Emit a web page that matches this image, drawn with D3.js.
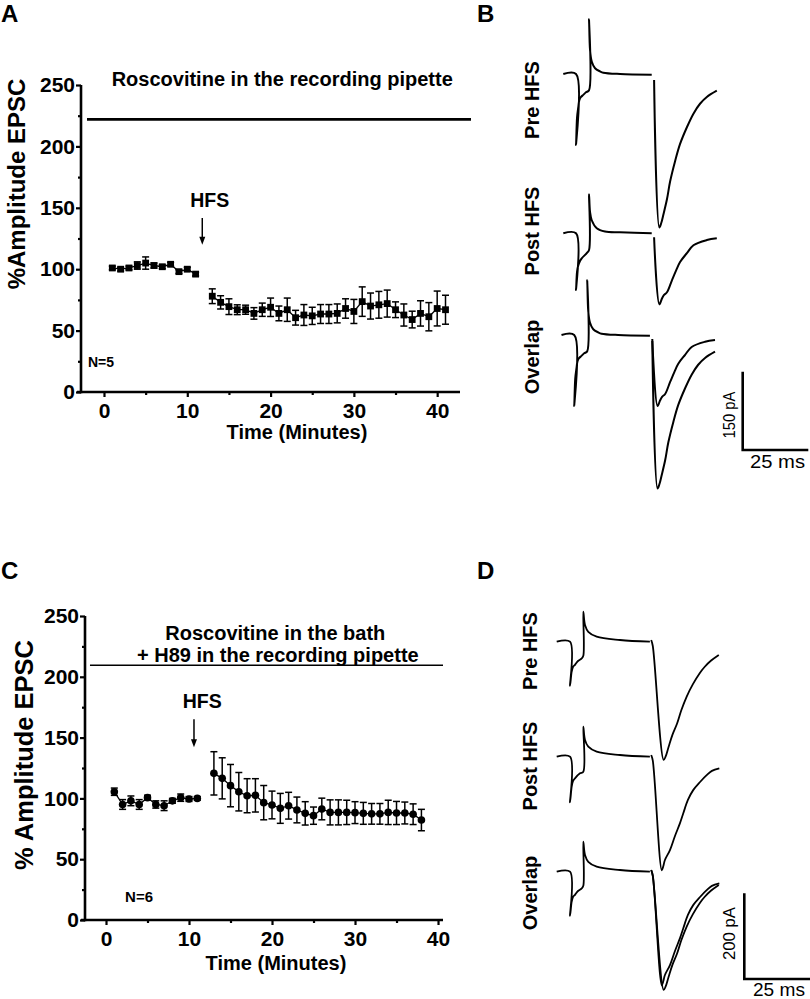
<!DOCTYPE html>
<html><head><meta charset="utf-8">
<script src="https://cdn.jsdelivr.net/npm/d3@7"></script>
<style>
body{margin:0;background:#fff}
svg{display:block}
text{font-family:'Liberation Sans',Arial,Helvetica,sans-serif}
</style>
</head><body>
<svg id="fig" width="810" height="999"></svg>
<script>
// ---------------- DATA ----------------
// Panel A (squares)
const timeA_pre = [1,2,3,4,5,6,7,8,9,10,11];
const ampA_pre  = [101,100,101,103,105,103,102,104,98,100,96];
const semA_pre  = [1.5,1.5,1.5,3,5,2,1.5,1.5,1.5,1.5,1.5];
const timeA_post = [13,14,15,16,17,18,19,20,21,22,23,24,25,26,27,28,29,30,31,32,33,34,35,36,37,38,39,40,41];
const ampA_post  = [78,73,69.5,67,67,64,67,69,64,67,60.5,62.7,62,63.5,63.5,64,68,65.6,73.6,70,71,72,67,62.7,59,64,61.3,68,67];
const semA_post  = [6,5.4,6.4,4,3.7,4.7,5.4,7.5,6,9.5,6,8.5,7,7.7,7.7,7.7,7.9,9.8,12,10.6,10.9,11,6.4,9,6.8,10.3,11.5,14.2,11.8];

// Panel C (circles)
const timeC_pre = [1,2,3,4,5,6,7,8,9,10,11];
const ampC_pre  = [105.5,95,98,95,100.6,95,94,98,100.6,99.5,100];
const semC_pre  = [3,4,4,4,2,3,4,2,3,2,1.5];
const timeC_post = [13,14,15,16,17,18,19,20,21,22,23,24,25,26,27,28,29,30,31,32,33,34,35,36,37,38];
const ampC_post  = [120.6,116.5,110.5,105.5,102.2,102.5,96.5,94.6,91.8,94,90.5,87.7,85.8,91.3,88.5,88.5,88.5,88.3,87.7,87.3,87.3,88.5,88,88,87,82.2];
const semC_post  = [17.8,16.9,17.4,15.8,14,13.7,14.1,11.4,12.3,11,10.6,9.6,7.1,8.9,10.3,10.3,10,9,9,8.5,8.5,10,9.5,9,8.5,8.8];

const yMajor = [0,50,100,150,200,250];
const yMinor = [25,75,125,175,225];
const xMajor = [0,10,20,30,40];
const xMinor = [5,15,25,35];

// Example traces: [time (ms), current (pA)]
const tpB_pre = [[0,0],[4.85,0],[4.85,-136],[5.23,-84],[5.73,-63],[6.11,-50],[6.76,-44],[7.63,-40],[8.66,-35],[9.81,-31],[9.81,105],[10.19,46],[10.84,24],[12.1,11],[14.0,5],[15.27,2.5],[21.6,0],[33.7,-1.3]];
const epscB_pre = [[34.6,-11.5],[36.6,-294],[37.3,-286],[38.2,-268],[39.5,-240],[40.7,-206],[42.6,-167],[44.5,-134],[47.1,-102],[49.6,-76],[52.1,-57],[54.7,-44],[58.5,-32]];
const tpB_post = [[0,0],[4.85,0],[4.85,-108.6],[5.23,-74],[5.73,-61],[6.37,-53],[7.02,-48],[8.93,-38],[9.81,-32],[9.81,75],[10.19,41],[10.84,25],[12.75,9.6],[15.9,3.4],[21.6,1.9],[33.7,0]];
const epscB_post = [[34.6,-7.7],[36.6,-136],[37.6,-125],[38.4,-118],[39.5,-113],[41.4,-90],[43.0,-71],[44.5,-55],[47.1,-38],[49.6,-23],[54.7,-13],[58.5,-9.6]];

const tpD_pre = [[0,0],[5.04,0],[5.04,-102.8],[5.68,-70],[6.17,-59],[6.93,-54],[8.07,-45],[9.47,-39],[10.08,-33],[10.08,70],[10.72,39],[11.97,23],[15.15,11.7],[23.97,4],[35.3,0]];
const epscD_pre = [[35.8,4],[36.4,-10],[40.5,-276],[41.2,-269],[42.4,-245],[43.8,-218],[45.6,-191],[47.2,-160],[49.2,-128.5],[51.6,-99],[54.1,-74],[56.0,-59],[58.5,-44],[61.4,-31]];
const tpD_post = [[0,0],[5.04,0],[5.04,-106.5],[5.68,-70],[6.17,-57],[6.93,-50.5],[8.83,-38.8],[10.08,-35],[10.08,70],[10.72,39],[11.97,23.4],[15.15,11.7],[23.97,4],[35.3,0]];
const epscD_post = [[35.8,4],[36.4,-9.3],[39.8,-265],[40.4,-255],[41.0,-241],[42.9,-218],[44.8,-185],[46.7,-155],[47.95,-132],[49.7,-101],[51.7,-78],[54.3,-59],[56.8,-43],[58.8,-33],[61.6,-27]];

// ---------------- DRAW ----------------
const svg = d3.select('#fig');

function txt(g, s, x, y, size, opts = {}) {
  const t = g.append('text').attr('x', x).attr('y', y).text(s)
    .attr('font-size', size).attr('font-weight', opts.weight || 'bold')
    .attr('text-anchor', opts.anchor || 'start').attr('fill', '#000');
  if (opts.rotate) t.attr('transform', `rotate(-90,${x},${y})`);
  if (opts.len) t.attr('textLength', opts.len).attr('lengthAdjust', 'spacingAndGlyphs');
  return t;
}

function timeCourse(o) {
  const g = svg.append('g');
  const x = d3.scaleLinear().domain(o.xDomain).range([o.x0, o.x1]);
  const y = d3.scaleLinear().domain([0, 250]).range([o.y0, o.y1]);

  const ya = g.append('g').attr('transform', `translate(${o.x0},0)`)
    .call(d3.axisLeft(y).tickValues(yMajor).tickSize(5).tickSizeOuter(0).tickPadding(1).tickFormat(d3.format('d')));
  const ym = g.append('g').attr('transform', `translate(${o.x0},0)`)
    .call(d3.axisLeft(y).tickValues(yMinor).tickSize(3).tickSizeOuter(0).tickFormat(''));
  const xa = g.append('g').attr('transform', `translate(0,${o.y0})`)
    .call(d3.axisBottom(x).tickValues(xMajor).tickSize(5).tickSizeOuter(0).tickPadding(6).tickFormat(d3.format('d')));
  const xm = g.append('g').attr('transform', `translate(0,${o.y0})`)
    .call(d3.axisBottom(x).tickValues(xMinor).tickSize(3).tickSizeOuter(0).tickFormat(''));
  [ya, ym, xa, xm].forEach(a => {
    a.select('.domain').remove();
    a.selectAll('line').attr('stroke', '#000').attr('stroke-width', 2.2);
    a.selectAll('text').attr('font-size', 21).attr('font-weight', 'bold')
      .style('font-family', "'Liberation Sans',Arial,sans-serif").attr('fill', '#000');
  });
  g.append('line').attr('x1', o.x0).attr('x2', o.x0).attr('y1', y(0) + 1.3).attr('y2', y(250))
    .attr('stroke', '#000').attr('stroke-width', 2.6);
  g.append('line').attr('x1', o.x0 - 4).attr('x2', o.x1).attr('y1', o.y0).attr('y2', o.y0)
    .attr('stroke', '#000').attr('stroke-width', 2.6);

  txt(g, o.yTitle, o.yTitlePos[0], o.yTitlePos[1], o.yTitleSize, {anchor: 'middle', rotate: true});
  txt(g, 'Time (Minutes)', o.xTitlePos[0], o.xTitlePos[1], 20, {anchor: 'middle'});

  g.append('line').attr('x1', x(o.bar[0])).attr('x2', x(o.bar[1]))
    .attr('y1', y(o.barVal)).attr('y2', y(o.barVal))
    .attr('stroke', '#000').attr('stroke-width', o.barWidth);
  o.titles.forEach(t => txt(g, t.s, x(t.x), y(t.y), 20, {anchor: 'middle'}));

  txt(g, 'HFS', x(o.hfsText[0]), y(o.hfsText[1]), 19.5, {anchor: 'middle'});
  const ax = x(o.hfsArrow[0]), yTail = y(o.hfsArrow[1]), yTip = y(o.hfsArrow[2]);
  g.append('line').attr('x1', ax).attr('x2', ax).attr('y1', yTail).attr('y2', yTip - 6)
    .attr('stroke', '#000').attr('stroke-width', 1.5);
  g.append('path').attr('d', `M${ax - 3},${yTip - 8} L${ax + 3},${yTip - 8} L${ax},${yTip} Z`).attr('fill', '#000');

  txt(g, o.nLabel, x(o.nPos[0]), y(o.nPos[1]), o.nSize, {});

  o.series.forEach(s => {
    const pts = s.t.map((t, i) => ({t, m: s.m[i], e: s.e[i]}));
    g.append('path').datum(pts)
      .attr('d', d3.line().x(d => x(d.t)).y(d => y(d.m)))
      .attr('fill', 'none').attr('stroke', '#000').attr('stroke-width', 1.3);
    const eb = g.append('g').attr('stroke', '#000').attr('stroke-width', 1.5);
    pts.forEach(d => {
      const cx = x(d.t);
      eb.append('line').attr('x1', cx).attr('x2', cx).attr('y1', y(d.m - d.e)).attr('y2', y(d.m + d.e));
      eb.append('line').attr('x1', cx - 3.5).attr('x2', cx + 3.5).attr('y1', y(d.m + d.e)).attr('y2', y(d.m + d.e));
      eb.append('line').attr('x1', cx - 3.5).attr('x2', cx + 3.5).attr('y1', y(d.m - d.e)).attr('y2', y(d.m - d.e));
    });
    if (o.marker === 'square') {
      g.selectAll(null).data(pts).enter().append('rect')
        .attr('x', d => x(d.t) - 3.4).attr('y', d => y(d.m) - 3.4)
        .attr('width', 6.8).attr('height', 6.8).attr('fill', '#000');
    } else {
      g.selectAll(null).data(pts).enter().append('circle')
        .attr('cx', d => x(d.t)).attr('cy', d => y(d.m)).attr('r', 3.8).attr('fill', '#000');
    }
  });
}

timeCourse({
  x0: 81, x1: 460, xDomain: [-2.76, 42.74], y0: 392, y1: 85,
  yTitle: '%Amplitude EPSC', yTitlePos: [25, 184], yTitleSize: 24,
  xTitlePos: [297, 439],
  bar: [-2.04, 44.06], barVal: 222, barWidth: 2.6,
  titles: [{s: 'Roscovitine in the recording pipette', x: 21.4, y: 249}],
  hfsText: [12.7, 150.9], hfsArrow: [11.8, 141.7, 120],
  nLabel: 'N=5', nPos: [-1.92, 20.4], nSize: 14,
  marker: 'square',
  series: [{t: timeA_pre, m: ampA_pre, e: semA_pre}, {t: timeA_post, m: ampA_post, e: semA_post}]
});

timeCourse({
  x0: 85, x1: 443, xDomain: [-2.53, 40.6], y0: 920, y1: 616,
  yTitle: '% Amplitude EPSC', yTitlePos: [33, 755], yTitleSize: 25.5,
  xTitlePos: [276, 970],
  bar: [-1.93, 40.6], barVal: 209.5, barWidth: 1.6,
  titles: [{s: 'Roscovitine in the bath', x: 20.4, y: 230.3}, {s: '+ H89 in the recording pipette', x: 20.7, y: 212.2}],
  hfsText: [11.6, 174.6], hfsArrow: [10.6, 165, 142],
  nLabel: 'N=6', nPos: [2.3, 15], nSize: 15,
  marker: 'circle',
  series: [{t: timeC_pre, m: ampC_pre, e: semC_pre}, {t: timeC_post, m: ampC_post, e: semC_post}]
});

// panel letters
txt(svg, 'A', 1, 22, 24, {});
txt(svg, 'B', 477, 22, 24, {});
txt(svg, 'C', 1, 579, 24, {});
txt(svg, 'D', 477, 579, 24, {});

// ---------- traces ----------
function tracesPanel(o) {
  const g = svg.append('g');
  const xs = d3.scaleLinear().domain([0, 25]).range([0, o.pxPer25ms]);
  const ys = d3.scaleLinear().domain([0, o.barPA]).range([0, -o.pxPerBar]);
  const line = (ox, oy) => d3.line().x(d => ox + xs(d[0])).y(d => oy + ys(d[1])).curve(d3.curveCatmullRom.alpha(0.5));
  o.rows.forEach(r => {
    r.traces.forEach(tr => {
      g.append('path').attr('d', line(r.ox, r.oy)(tr)).attr('fill', 'none')
        .attr('stroke', '#000').attr('stroke-width', o.sw).attr('stroke-linejoin', 'round');
    });
    txt(g, r.label, r.labelPos[0], r.labelPos[1], 20, {anchor: 'middle', rotate: true});
  });
  const [cx, cy] = o.bar;
  g.append('path').attr('d', `M${cx},${cy + ys(o.barPA)} V${cy} H${cx + xs(25)}`)
    .attr('fill', 'none').attr('stroke', '#000').attr('stroke-width', 2.6);
  txt(g, o.barPA + ' pA', o.paPos[0], o.paPos[1], 17, {anchor: 'middle', rotate: true, weight: 'normal', len: o.paLen});
  txt(g, '25 ms', o.msPos[0], o.msPos[1], 18, {anchor: 'middle', weight: 'normal', len: o.msLen});
}

tracesPanel({
  pxPer25ms: 65.6, barPA: 150, pxPerBar: 78.3, sw: 2,
  rows: [
    {label: 'Pre HFS', labelPos: [539, 100], ox: 563.3, oy: 74, traces: [tpB_pre, epscB_pre]},
    {label: 'Post HFS', labelPos: [539, 231], ox: 563.3, oy: 233.3, traces: [tpB_post, epscB_post]},
    {label: 'Overlap', labelPos: [539, 357], ox: 561.5, oy: 335, traces: [epscB_post, tpB_pre, epscB_pre]}
  ],
  bar: [742.7, 450], paPos: [735, 415], paLen: 47, msPos: [777.5, 468], msLen: 55
});

tracesPanel({
  pxPer25ms: 66, barPA: 200, pxPerBar: 85.7, sw: 1.8,
  rows: [
    {label: 'Pre HFS', labelPos: [537, 651], ox: 556.7, oy: 641.7, traces: [tpD_pre, epscD_pre]},
    {label: 'Post HFS', labelPos: [537, 766], ox: 556.7, oy: 756.7, traces: [tpD_post, epscD_post]},
    {label: 'Overlap', labelPos: [537, 893], ox: 556.7, oy: 871.7, traces: [epscD_post, tpD_pre, epscD_pre]}
  ],
  bar: [744.3, 979], paPos: [735, 933.5], paLen: 53, msPos: [779, 996], msLen: 52
});
</script>
</body></html>
